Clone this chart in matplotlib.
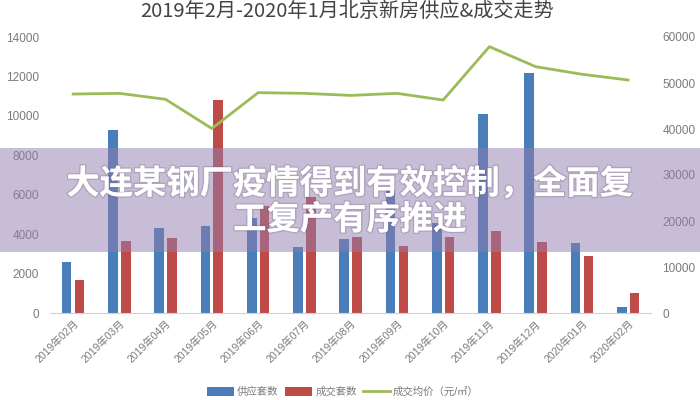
import numpy as np
import matplotlib
matplotlib.use("Agg")
import matplotlib.pyplot as plt
import matplotlib.patheffects as pe
from matplotlib.patches import Rectangle

plt.rcParams['font.family'] = ['Liberation Sans', 'Noto Sans CJK SC', 'DejaVu Sans']

# data
months = ['2019年02月', '2019年03月', '2019年04月', '2019年05月', '2019年06月',
          '2019年07月', '2019年08月', '2019年09月', '2019年10月', '2019年11月',
          '2019年12月', '2020年01月', '2020年02月']
supply = [2600, 9280, 4300, 4420, 4820, 3350, 3760, 6240, 4570, 10100, 12150, 3550, 280]
deals = [1680, 3650, 3800, 10780, 5430, 5890, 3860, 3400, 3860, 4160, 3600, 2900, 1020]
avg_price = [47600, 47750, 46450, 40100, 47900, 47750, 47300, 47750, 46300,
             57900, 53550, 51900, 50650]

blue = '#4A7EBB'
red = '#BE4B48'
green = '#9BBB59'
grey = '#7a7a7a'

fig = plt.figure(figsize=(7, 4), dpi=100)
ax = fig.add_axes([0.0714, 0.2175, 0.859, 0.69])
ax2 = ax.twinx()

x = np.arange(len(months))
ax.bar(x - 0.14, supply, width=0.21, color=blue, label='供应套数')
ax.bar(x + 0.14, deals, width=0.21, color=red, label='成交套数')
ax2.plot(x, avg_price, color=green, lw=2, label='成交均价（元/㎡）')

ax.set_xlim(-0.5, len(months) - 0.5)
ax.set_ylim(0, 14000)
ax2.set_ylim(0, 60000)
ax.set_yticks(range(0, 14001, 2000))
ax2.set_yticks(range(0, 60001, 10000))

for a in (ax, ax2):
    for s in ('top', 'left', 'right'):
        a.spines[s].set_visible(False)
    a.tick_params(length=0, labelsize=8.5, labelcolor=grey)
ax.spines['bottom'].set_color('#d0d0d0')
ax2.spines['bottom'].set_visible(False)

ax.set_xticks(x)
ax.set_xticklabels(months, rotation=45, ha='right', rotation_mode='anchor',
                   fontsize=7.5, color=grey)
ax.tick_params(axis='x', pad=4)
ax.tick_params(axis='y', pad=8)
ax2.tick_params(axis='y', pad=8)

fig.text(0.496, 0.997, '2019年2月-2020年1月北京新房供应&成交走势', ha='center', va='top',
         fontsize=14.5, color='#444444', family=['Noto Sans CJK SC', 'DejaVu Sans'])

h1, l1 = ax.get_legend_handles_labels()
h2, l2 = ax2.get_legend_handles_labels()
fig.legend(h1 + h2, l1 + l2, loc='center', bbox_to_anchor=(0.49, 0.02), ncol=3,
           frameon=False, fontsize=7.5, labelcolor=grey, handlelength=2.6,
           handleheight=0.9, columnspacing=0.6, handletextpad=0.3)

# overlay band with headline
fig.patches.append(Rectangle((0, 0.37), 1, 0.26, transform=fig.transFigure,
                             facecolor=(145 / 255, 125 / 255, 175 / 255), alpha=0.5,
                             edgecolor='none', zorder=5))
for yy, txt in ((0.54, '大连某钢厂疫情得到有效控制，全面复'), (0.45, '工复产有序推进')):
    fig.text(0.5, yy, txt, ha='center', va='center', fontsize=24, fontweight='bold',
             color='white', family=['Noto Sans CJK SC', 'DejaVu Sans'], zorder=6,
             path_effects=[pe.withStroke(linewidth=2, foreground=(0.4, 0.35, 0.45, 0.25))])

fig.savefig('out.png', dpi=100)
